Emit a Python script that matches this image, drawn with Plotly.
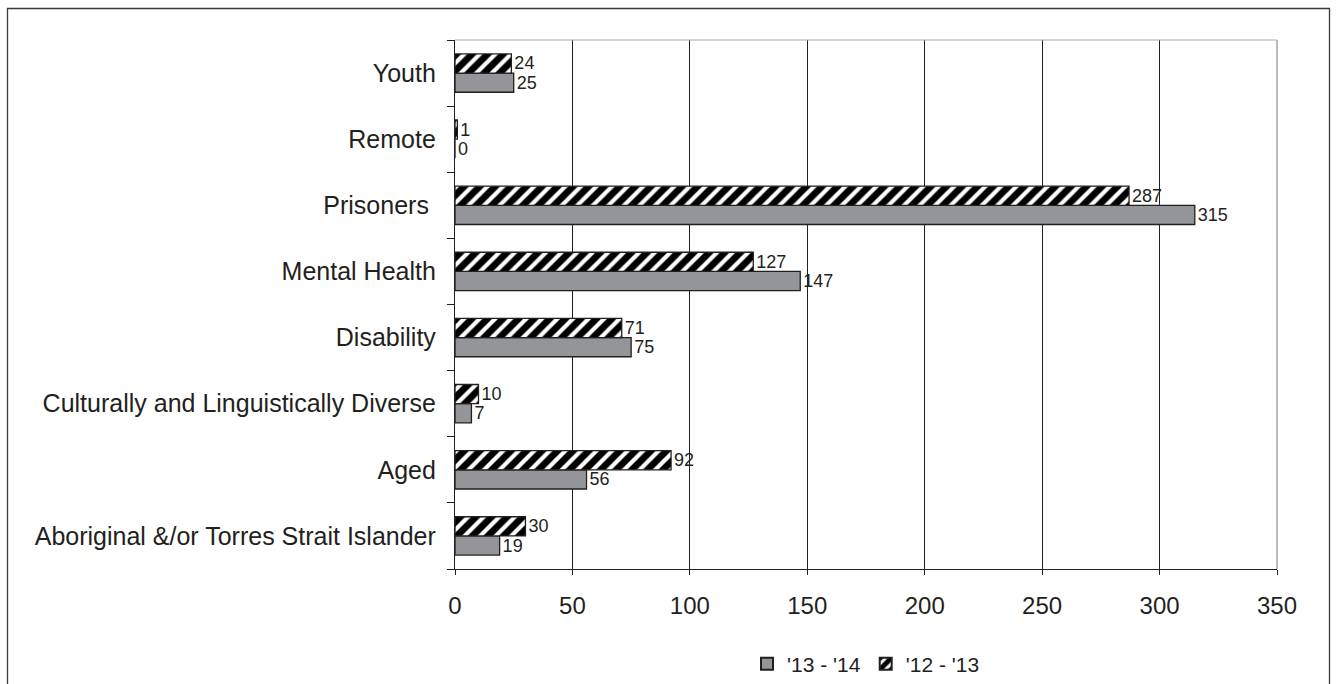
import plotly.graph_objects as go

# Client groups, bottom to top
categories = [
    "Aboriginal &/or Torres Strait Islander",
    "Aged",
    "Culturally and Linguistically Diverse",
    "Disability",
    "Mental Health",
    "Prisoners ",
    "Remote",
    "Youth",
]
values_13_14 = [19, 56, 7, 75, 147, 315, 0, 25]
values_12_13 = [30, 92, 10, 71, 127, 287, 1, 24]
x_ticks = [0, 50, 100, 150, 200, 250, 300, 350]

INK = "#231f20"
FONT = "Liberation Sans"

fig = go.Figure()
fig.add_trace(go.Bar(
    y=categories, x=values_13_14, orientation="h", name="'13 - '14",
    marker=dict(color="#939598", line=dict(color=INK, width=1.3)),
    text=[str(v) for v in values_13_14], textposition="outside", constraintext="none",
    textfont=dict(size=18, color=INK, family=FONT), cliponaxis=False,
))
fig.add_trace(go.Bar(
    y=categories, x=values_12_13, orientation="h", name="'12 - '13",
    marker=dict(color="white", line=dict(color=INK, width=1.3),
                pattern=dict(shape="/", fgcolor="#000000", bgcolor="white",
                             fgopacity=1, size=11, solidity=0.62)),
    text=[str(v) for v in values_12_13], textposition="outside", constraintext="none",
    textfont=dict(size=18, color=INK, family=FONT), cliponaxis=False,
))

L, R, T, B = 455, 59, 40, 115
W, H = 1336, 684
pw, ph = W - L - R, H - T - B

def px_x(x):
    return (x - L) / pw

def px_y(y):
    return (H - B - y) / ph

shapes = [
    # outer frame
    dict(type="rect", xref="paper", yref="paper",
         x0=px_x(7.5), x1=px_x(1329.5), y0=px_y(720), y1=px_y(8.5),
         line=dict(color="#3a3a3a", width=1.3), layer="below"),
    # light plot-area border on top and right
    dict(type="line", xref="paper", yref="paper", x0=0, x1=1, y0=1, y1=1,
         line=dict(color="#a7a9ac", width=1)),
    dict(type="line", xref="paper", yref="paper", x0=1, x1=1, y0=0, y1=1,
         line=dict(color="#8c8c8c", width=1.2)),
]

fig.update_layout(
    width=W, height=H,
    margin=dict(l=L, r=R, t=T, b=B, autoexpand=False),
    paper_bgcolor="white", plot_bgcolor="white",
    barmode="group", bargap=0.42, bargroupgap=0,
    font=dict(family=FONT, color=INK),
    shapes=shapes,
    showlegend=True,
    legend=dict(orientation="h", xref="paper", x=0.5, xanchor="center",
                yref="container", y=1 - 664 / H, yanchor="middle",
                bgcolor="rgba(0,0,0,0)",
                font=dict(size=21, color=INK, family=FONT), traceorder="normal",
                itemwidth=30, itemsizing="constant"),
    xaxis=dict(range=[0, 350], tickvals=x_ticks, ticktext=[str(v) for v in x_ticks],
               showgrid=True, gridcolor=INK, gridwidth=1,
               showline=True, linecolor=INK, linewidth=1.3,
               ticks="outside", ticklen=5, tickcolor=INK, tickwidth=1.3,
               tickfont=dict(size=24, color=INK, family=FONT),
               ticklabelstandoff=10, zeroline=False, fixedrange=True),
    yaxis=dict(categoryorder="array", categoryarray=categories,
               showline=True, linecolor=INK, linewidth=1.3,
               ticks="outside", ticklen=7, tickcolor=INK, tickwidth=1.3,
               tickson="boundaries", showgrid=False,
               tickfont=dict(size=25, color=INK, family=FONT),
               ticklabelstandoff=13, fixedrange=True),
)

fig.write_html("out.html")
